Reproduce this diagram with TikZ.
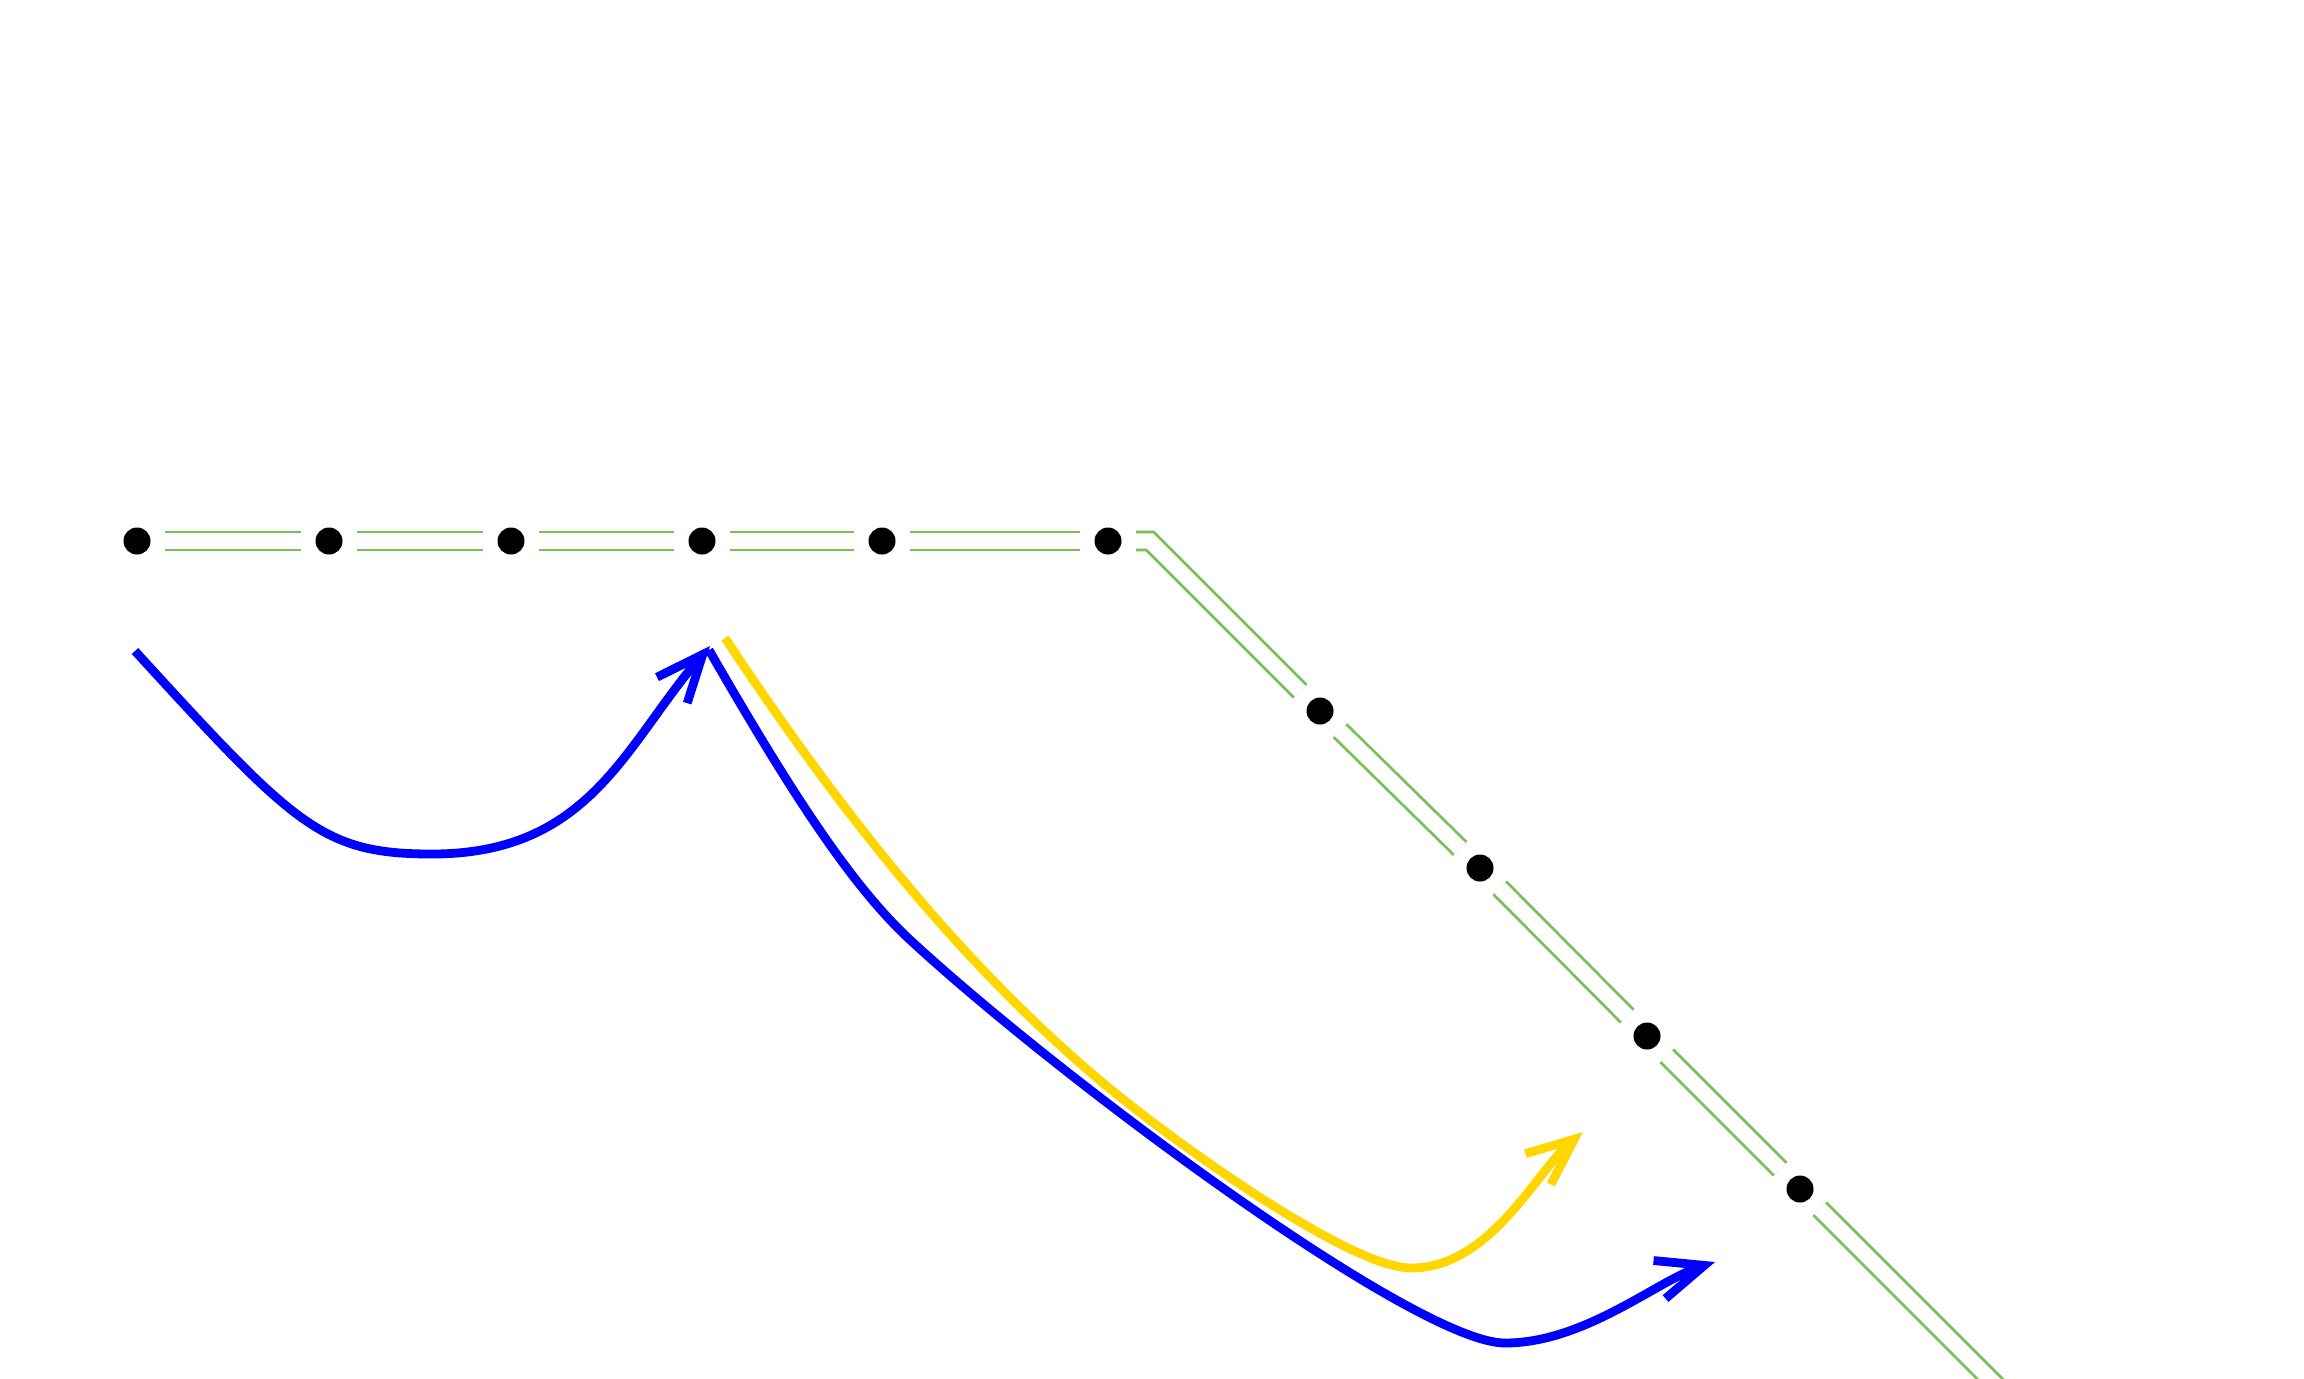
\documentclass[tikz,border=0pt]{standalone}
\usetikzlibrary{arrows.meta}
\definecolor{edgegreen}{RGB}{122,192,88}
\definecolor{arrowgold}{RGB}{255,214,0}
\begin{document}
\begin{tikzpicture}[x=0.01cm,y=-0.01cm,
    vtx/.style={circle,fill=black,minimum size=0.27cm,inner sep=0pt,outer sep=0.145cm},
    dbl/.style={draw=edgegreen,line width=0.8pt,double=white,double distance=4.3pt},
    flow/.style={line width=2.5pt,->},
    >={Straight Barb[angle=46:14.5pt,sharp]}]
                \useasboundingbox (0,0) rectangle (2304,1378);
                \clip (0,0) rectangle (2304,1378);

                \node[vtx] (A) at (137,541) {};
                \node[vtx] (B) at (329,541) {};
                \node[vtx] (C) at (511,541) {};
                \node[vtx] (D) at (702,541) {};
                \node[vtx] (E) at (882,541) {};
                \node[vtx] (F) at (1108,541) {};
                \coordinate (Fc) at (1150,541);
                \node[vtx] (G) at (1320,711) {};
                \node[vtx] (H) at (1480,868) {};
                \node[vtx] (I) at (1647,1036) {};
                \node[vtx] (J) at (1800,1189) {};
                \coordinate (K) at (2060,1449);

                \draw[dbl] (A) -- (B);
                \draw[dbl] (B) -- (C);
                \draw[dbl] (C) -- (D);
                \draw[dbl] (D) -- (E);
                \draw[dbl] (E) -- (F);
                \draw[dbl] (F) -- (Fc) -- (G);
                \draw[dbl] (G) -- (H);
                \draw[dbl] (H) -- (I);
                \draw[dbl] (I) -- (J);
                \draw[dbl] (J) -- (K);

                % blue loop into D
                \coordinate (P1) at (135,651);
                \coordinate (P2) at (432,854);
                \coordinate (P3) at (710,646);
                \draw[flow,blue] (P1) .. controls +(160,175) and +(-110,0) .. (P2)
                    .. controls +(158,0) and +(-85,99) .. (P3);

                % yellow
                \coordinate (Y1) at (725,638);
                \coordinate (Y2) at (1103,1083);
                \coordinate (Y3) at (1411,1268);
                \coordinate (Y4) at (1583,1132);
                \draw[flow,arrowgold] (Y1) .. controls +(108,163) and +(-149,-125) .. (Y2)
                    .. controls +(77,64) and +(-60,0) .. (Y3)
                    .. controls +(80,0) and +(-46,38) .. (Y4);

                % blue out of D
                \coordinate (Q1) at (709,650);
                \coordinate (Q2) at (907,937);
                \coordinate (Q3) at (1505,1343);
                \coordinate (Q4) at (1715,1262);
                \draw[flow,blue] (Q1) .. controls +(80,139) and +(-58,-55) .. (Q2)
                    .. controls +(146,136) and +(-90,0) .. (Q3)
                    .. controls +(80,0) and +(-57,18) .. (Q4);
            \end{tikzpicture}
\end{document}
